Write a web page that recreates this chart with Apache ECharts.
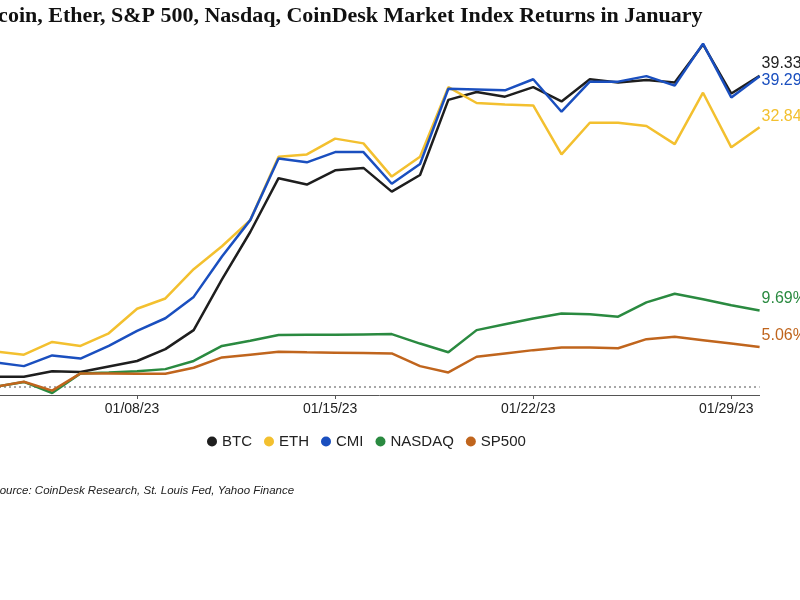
<!DOCTYPE html>
<html>
<head>
<meta charset="utf-8">
<script src="https://cdn.jsdelivr.net/npm/echarts@6/dist/echarts.min.js"></script>
<style>
html,body{margin:0;padding:0;background:#fff;overflow:hidden;}
#chart{width:800px;height:600px;}
</style>
</head>
<body>
<div id="chart"></div>
<script>
var dates = ['01/01/23','01/02/23','01/03/23','01/04/23','01/05/23','01/06/23','01/07/23','01/08/23','01/09/23','01/10/23',
  '01/11/23','01/12/23','01/13/23','01/14/23','01/15/23','01/16/23','01/17/23','01/18/23','01/19/23','01/20/23',
  '01/21/23','01/22/23','01/23/23','01/24/23','01/25/23','01/26/23','01/27/23','01/28/23','01/29/23','01/30/23'];

var btc = [0, 0.4, 1.3, 1.3, 2.0, 1.9, 2.6, 3.3, 4.8, 7.2, 13.6, 19.6, 26.4, 25.6, 27.4, 27.7, 24.7, 26.8, 36.3, 37.3,
  36.7, 37.9, 36.1, 38.9, 38.5, 38.8, 38.5, 43.3, 37.1, 39.33];
var eth = [0, 1.5, 4.5, 4.1, 5.7, 5.2, 6.8, 9.9, 11.2, 14.9, 17.8, 21.1, 29.1, 29.4, 31.4, 30.8, 26.6, 29.1, 37.9, 35.9,
  35.7, 35.6, 29.4, 33.4, 33.4, 33.0, 30.7, 37.2, 30.3, 32.84];
var cmi = [0, 1.0, 3.1, 2.65, 4.0, 3.6, 5.2, 7.1, 8.7, 11.4, 16.5, 21.1, 28.9, 28.4, 29.7, 29.7, 25.7, 28.2, 37.7, 37.6,
  37.5, 38.9, 34.8, 38.6, 38.6, 39.3, 38.1, 43.4, 36.6, 39.29];
var nasdaq = [0, 0, 0.05, 0.65, -0.75, 1.73, 1.85, 2.0, 2.27, 3.3, 5.2, 5.85, 6.57, 6.6, 6.6, 6.65, 6.7, 5.5, 4.4, 7.2,
  7.95, 8.67, 9.3, 9.2, 8.9, 10.7, 11.8, 11.1, 10.35, 9.69];
var sp500 = [0, 0, 0.05, 0.67, -0.45, 1.73, 1.72, 1.7, 1.68, 2.44, 3.75, 4.1, 4.46, 4.4, 4.35, 4.3, 4.25, 2.65, 1.85, 3.83,
  4.25, 4.67, 5.0, 5.0, 4.9, 6.06, 6.35, 5.93, 5.5, 5.06];

var names = ['BTC', 'ETH', 'CMI', 'NASDAQ', 'SP500'];
var colors = ['#1e1e1e', '#f3c02f', '#1a4fbf', '#2a8a40', '#c0651d'];
var labelOffsets = [[0, -12], [0, -11], [0, 4], [0, -12], [0, -11]];
var seriesData = [btc, eth, cmi, nasdaq, sp500];

var chart = echarts.init(document.getElementById('chart'), null, {renderer: 'canvas'});

var series = names.map(function (n, i) {
  var s = {
    name: n,
    type: 'line',
    data: seriesData[i],
    showSymbol: false,
    symbol: 'circle',
    lineStyle: {width: 2.5, color: colors[i]},
    itemStyle: {color: colors[i]},
    endLabel: {
      show: true,
      formatter: function (p) { return p.value + '%'; },
      color: colors[i],
      fontSize: 16,
      fontFamily: 'Liberation Sans, Arial, sans-serif',
      distance: 2,
      offset: labelOffsets[i]
    },
    z: 2 + i
  };
  if (i === 0) {
    s.markLine = {
      silent: true,
      symbol: ['none', 'none'],
      label: {show: false},
      lineStyle: {type: [2, 3], color: '#8a8a8a', width: 1.5},
      data: [{yAxis: 0}],
      z: 1
    };
  }
  return s;
});

chart.setOption({
  animation: false,
  backgroundColor: '#ffffff',
  color: colors,
  title: [{
    text: 'Bitcoin, Ether, S&P 500, Nasdaq, CoinDesk Market Index Returns in January',
    left: -35,
    top: 0,
    textStyle: {fontFamily: 'Liberation Serif, serif', fontWeight: 'bold', fontSize: 22, color: '#111'}
  }, {
    text: 'Source: CoinDesk Research, St. Louis Fed, Yahoo Finance',
    left: -13,
    top: 480,
    textStyle: {fontFamily: 'Liberation Sans, Arial, sans-serif', fontStyle: 'italic', fontWeight: 'normal', fontSize: 11.5, color: '#222'}
  }],
  legend: {
    data: names,
    left: 202,
    top: 429,
    icon: 'circle',
    itemWidth: 10,
    itemHeight: 10,
    itemGap: 12,
    textStyle: {fontFamily: 'Liberation Sans, Arial, sans-serif', fontSize: 15, color: '#222'}
  },
  grid: {left: -61, right: 40.4, top: 31, bottom: 205, containLabel: false, outerBoundsMode: 'none'},
  xAxis: {
    type: 'category',
    data: dates,
    boundaryGap: false,
    axisLine: {onZero: false, lineStyle: {color: '#555', width: 1}},
    axisTick: {show: true, interval: 6, length: 4, lineStyle: {color: '#555'}},
    axisLabel: {interval: 6, color: '#222', fontSize: 14, fontFamily: 'Liberation Sans, Arial, sans-serif', margin: 7, padding: [0, 10, 0, 0]},
    splitLine: {show: false}
  },
  yAxis: {
    type: 'value',
    min: -1,
    max: 45,
    show: false,
    splitLine: {show: false}
  },
  series: series
});
</script>
</body>
</html>
